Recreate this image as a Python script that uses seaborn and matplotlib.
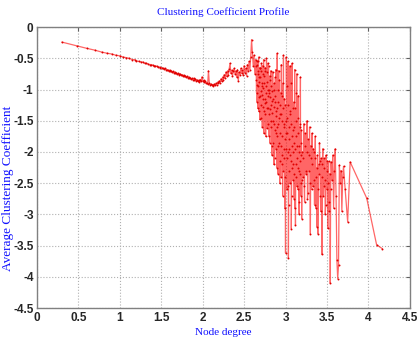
import matplotlib
matplotlib.use("Agg")
import matplotlib.pyplot as plt
import seaborn as sns
import pandas as pd

# log10(node degree) and log10(average clustering coefficient)
deg_smooth = [0.30, 0.48, 0.60, 0.70, 0.78, 0.85, 0.90, 0.95, 1.00, 1.04,
              1.08, 1.11, 1.15, 1.18, 1.20, 1.23, 1.26, 1.28, 1.30, 1.32,
              1.34, 1.36, 1.38, 1.40, 1.41, 1.43, 1.45, 1.46, 1.48, 1.49,
              1.51, 1.52, 1.53, 1.54, 1.56, 1.57, 1.58, 1.59, 1.60, 1.61,
              1.62, 1.63, 1.64, 1.65, 1.66, 1.67, 1.68, 1.69, 1.70, 1.71,
              1.72, 1.73, 1.74, 1.75, 1.76, 1.77, 1.78, 1.79, 1.80, 1.81,
              1.82, 1.83, 1.84, 1.85, 1.86, 1.87, 1.88, 1.89, 1.90, 1.91,
              1.92, 1.93, 1.94, 1.95, 1.96, 1.97, 1.98, 1.99]
cc_smooth = [-0.24, -0.30, -0.34, -0.37, -0.40, -0.42, -0.43, -0.45, -0.46, -0.48,
             -0.49, -0.50, -0.52, -0.52, -0.54, -0.55, -0.56, -0.56, -0.58, -0.58,
             -0.59, -0.60, -0.60, -0.61, -0.62, -0.62, -0.63, -0.64, -0.64, -0.65,
             -0.65, -0.66, -0.67, -0.66, -0.68, -0.68, -0.69, -0.70, -0.69, -0.71,
             -0.70, -0.72, -0.71, -0.73, -0.72, -0.74, -0.73, -0.75, -0.74, -0.75,
             -0.76, -0.75, -0.77, -0.76, -0.78, -0.77, -0.79, -0.78, -0.80, -0.79,
             -0.81, -0.80, -0.82, -0.81, -0.83, -0.82, -0.84, -0.82, -0.85, -0.83,
             -0.86, -0.84, -0.87, -0.85, -0.88, -0.84, -0.87, -0.80]

deg_mid = [2.00, 2.01, 2.02, 2.03, 2.04, 2.05, 2.06, 2.07, 2.08, 2.09,
           2.10, 2.11, 2.12, 2.13, 2.14, 2.15, 2.16, 2.17, 2.18, 2.19,
           2.20, 2.21, 2.22, 2.23, 2.24, 2.25, 2.26, 2.27, 2.28, 2.29,
           2.30, 2.31, 2.32, 2.33, 2.34, 2.35, 2.36, 2.37, 2.38, 2.39,
           2.40, 2.41, 2.42, 2.43, 2.44, 2.45, 2.46, 2.47, 2.48, 2.49,
           2.50, 2.51, 2.52, 2.53, 2.54, 2.55, 2.56, 2.57, 2.58, 2.59,
           2.60, 2.61, 2.62, 2.63, 2.64]
cc_mid = [-0.86, -0.85, -0.88, -0.87, -0.90, -0.89, -0.91, -0.70, -0.90, -0.92,
          -0.91, -0.93, -0.92, -0.94, -0.91, -0.93, -0.90, -0.92, -0.88, -0.90,
          -0.86, -0.89, -0.83, -0.87, -0.80, -0.84, -0.76, -0.82, -0.72, -0.79,
          -0.70, -0.76, -0.67, -0.58, -0.74, -0.69, -0.78, -0.71, -0.66, -0.75,
          -0.70, -0.80, -0.68, -0.86, -0.72, -0.76, -0.66, -0.74, -0.69, -0.77,
          -0.62, -0.73, -0.66, -0.78, -0.60, -0.70, -0.55, -0.68, -0.48, -0.20,
          -0.40, -0.62, -0.45, -0.75, -0.52]

deg_dense = [2.645, 2.650, 2.655, 2.660, 2.665, 2.670, 2.675, 2.680, 2.685, 2.690,
             2.695, 2.700, 2.705, 2.710, 2.715, 2.720, 2.725, 2.730, 2.735, 2.740,
             2.745, 2.750, 2.755, 2.760, 2.765, 2.770, 2.775, 2.780, 2.785, 2.790,
             2.795, 2.800, 2.805, 2.810, 2.815, 2.820, 2.825, 2.830, 2.835, 2.840,
             2.845, 2.850, 2.855, 2.860, 2.865, 2.870, 2.875, 2.880, 2.885, 2.890,
             2.895, 2.900, 2.905, 2.910, 2.915, 2.920, 2.925, 2.930, 2.935, 2.940,
             2.945, 2.950, 2.955, 2.960, 2.965, 2.970, 2.975, 2.980, 2.985, 2.990,
             2.995, 3.000, 3.005, 3.010, 3.015, 3.020, 3.025, 3.030, 3.035, 3.040,
             3.045, 3.050, 3.055, 3.060, 3.065, 3.070, 3.075, 3.080, 3.085, 3.090,
             3.095, 3.100, 3.105, 3.110, 3.115, 3.120, 3.125, 3.130, 3.135, 3.140,
             3.145, 3.150, 3.155, 3.160, 3.165, 3.170, 3.175, 3.180, 3.185, 3.190,
             3.195, 3.200]
cc_dense = [-0.62, -1.05, -0.55, -0.92, -1.30, -0.70, -0.48, -1.12, -0.80, -1.48,
            -0.66, -1.02, -1.25, -0.58, -0.95, -1.60, -0.75, -1.15, -0.52, -1.35,
            -0.90, -1.22, -0.70, -1.75, -1.05, -0.50, -1.30, -0.88, -1.55, -1.10,
            -0.62, -1.40, -1.00, -1.85, -0.78, -1.25, -1.60, -0.95, -2.05, -1.18,
            -0.72, -1.50, -1.28, -2.20, -0.90, -1.65, -1.10, -1.95, -0.68, -1.42,
            -1.75, -0.42, -1.55, -2.35, -1.20, -1.85, -0.85, -2.50, -1.40, -1.05,
            -1.90, -0.60, -2.20, -1.50, -2.70, -1.30, -0.45, -1.95, -1.60, -2.90,
            -1.25, -3.62, -1.70, -0.48, -2.10, -1.45, -2.55, -0.55, -3.70, -1.80,
            -2.30, -1.35, -0.62, -2.05, -1.55, -3.23, -1.90, -0.58, -2.45, -1.65,
            -2.20, -1.20, -2.75, -0.68, -1.95, -3.17, -1.50, -2.40, -0.75, -2.10,
            -1.70, -2.60, -1.10, -2.30, -3.00, -1.60, -2.15, -0.80, -2.50, -1.85,
            -3.07, -2.00]

deg_dense_b = [2.6475, 2.6525, 2.6575, 2.6625, 2.6675, 2.6725, 2.6775, 2.6825, 2.6875, 2.6925,
               2.6975, 2.7025, 2.7075, 2.7125, 2.7175, 2.7225, 2.7275, 2.7325, 2.7375, 2.7425,
               2.7475, 2.7525, 2.7575, 2.7625, 2.7675, 2.7725, 2.7775, 2.7825, 2.7875, 2.7925,
               2.7975, 2.8025, 2.8075, 2.8125, 2.8175, 2.8225, 2.8275, 2.8325, 2.8375, 2.8425,
               2.8475, 2.8525, 2.8575, 2.8625, 2.8675, 2.8725, 2.8775, 2.8825, 2.8875, 2.8925,
               2.8975, 2.9025, 2.9075, 2.9125, 2.9175, 2.9225, 2.9275, 2.9325, 2.9375, 2.9425,
               2.9475, 2.9525, 2.9575, 2.9625, 2.9675, 2.9725, 2.9775, 2.9825, 2.9875, 2.9925,
               2.9975, 3.0025, 3.0075, 3.0125, 3.0175, 3.0225, 3.0275, 3.0325, 3.0375, 3.0425,
               3.0475, 3.0525, 3.0575, 3.0625, 3.0675, 3.0725, 3.0775, 3.0825, 3.0875, 3.0925,
               3.0975, 3.1025, 3.1075, 3.1125, 3.1175, 3.1225, 3.1275, 3.1325, 3.1375, 3.1425,
               3.1475, 3.1525, 3.1575, 3.1625, 3.1675, 3.1725, 3.1775, 3.1825, 3.1875, 3.1925,
               3.1975]
cc_dense_b = [-0.85, -0.60, -1.20, -0.75, -0.95, -0.55, -1.35, -0.88, -0.65, -1.10,
              -0.80, -1.45, -0.70, -1.08, -0.90, -0.62, -1.28, -0.98, -1.70, -0.78,
              -1.15, -0.65, -1.40, -0.95, -1.20, -0.72, -1.62, -1.00, -0.58, -1.30,
              -1.05, -1.75, -0.85, -1.32, -1.12, -0.70, -1.50, -1.90, -1.02, -1.38,
              -1.15, -1.85, -1.00, -1.55, -2.10, -1.20, -0.80, -1.70, -1.35, -2.25,
              -1.30, -1.60, -1.00, -1.90, -0.70, -1.45, -2.15, -1.25, -1.70, -2.40,
              -1.40, -2.05, -1.10, -1.75, -0.90, -2.30, -1.55, -2.10, -1.15, -1.80,
              -2.40, -1.50, -1.95, -0.95, -2.60, -1.70, -2.00, -1.25, -2.85, -1.60,
              -1.95, -2.50, -1.40, -2.15, -0.90, -2.70, -1.75, -2.25, -1.30, -2.00,
              -1.60, -2.35, -1.85, -2.90, -1.30, -2.20, -1.75, -1.05, -2.55, -1.90,
              -2.25, -1.45, -2.00, -2.80, -1.90, -2.35, -1.55, -2.70, -2.05, -1.65,
              -2.45]

deg_tail = [3.21, 3.22, 3.23, 3.24, 3.25, 3.26, 3.27, 3.28, 3.29, 3.30,
            3.31, 3.32, 3.33, 3.34, 3.35, 3.36, 3.37, 3.38, 3.39, 3.40,
            3.41, 3.42, 3.43, 3.44, 3.45, 3.46, 3.47, 3.48, 3.49, 3.50,
            3.51, 3.52, 3.53, 3.54, 3.55, 3.56, 3.57, 3.58, 3.59, 3.60,
            3.61, 3.62, 3.63, 3.64, 3.65, 3.66, 3.67, 3.68, 3.69, 3.70,
            3.72, 3.75, 3.78, 3.98, 4.10, 4.17]
cc_tail = [-2.40, -1.55, -2.80, -1.90, -2.30, -1.50, -2.65, -2.05, -1.60, -3.31,
           -2.10, -1.70, -2.55, -2.00, -2.85, -1.75, -2.40, -3.20, -3.31, -2.20,
           -1.85, -2.70, -2.10, -3.64, -1.95, -2.55, -2.25, -3.00, -2.05, -2.60,
           -3.22, -2.15, -2.80, -4.10, -2.16, -2.45, -2.05, -2.90, -2.30, -1.95,
           -2.70, -3.73, -4.03, -3.81, -2.21, -2.50, -2.30, -2.95, -2.40, -2.23,
           -2.60, -3.12, -2.16, -2.74, -3.49, -3.55]

deg_tail_b = [3.215, 3.225, 3.235, 3.245, 3.255, 3.265, 3.275, 3.285, 3.295, 3.305,
              3.315, 3.325, 3.335, 3.345, 3.355, 3.365, 3.375, 3.385, 3.395, 3.405,
              3.415, 3.425, 3.435, 3.445, 3.455, 3.465, 3.475, 3.485, 3.495, 3.505,
              3.515, 3.525, 3.535, 3.545]
cc_tail_b = [-2.10, -2.55, -1.70, -2.35, -2.00, -2.75, -1.80, -2.30, -2.50, -1.90,
             -2.60, -2.20, -1.95, -2.45, -2.10, -2.90, -2.25, -2.05, -2.60, -2.35,
             -2.15, -2.95, -2.40, -2.20, -2.70, -2.10, -2.45, -2.85, -2.30, -2.15,
             -2.50, -2.95, -2.35, -2.60]

x_ticks = [0, 0.5, 1, 1.5, 2, 2.5, 3, 3.5, 4, 4.5]
y_ticks = [0, -0.5, -1, -1.5, -2, -2.5, -3, -3.5, -4, -4.5]

df = pd.DataFrame({
    "degree": deg_smooth + deg_mid + deg_dense + deg_dense_b + deg_tail + deg_tail_b,
    "cc": cc_smooth + cc_mid + cc_dense + cc_dense_b + cc_tail + cc_tail_b,
}).sort_values("degree", kind="stable").reset_index(drop=True)

sns.set_style("white")

serif = ["Liberation Serif", "DejaVu Serif"]

fig = plt.figure(figsize=(4.17, 3.43), dpi=100)
fig.patch.set_facecolor("white")
ax = fig.add_axes([0.0887, 0.102, 0.894, 0.819])

sns.lineplot(data=df, x="degree", y="cc", sort=False, estimator=None,
             color="#ff0000", alpha=0.6, linewidth=0.9, ax=ax, legend=False)
sns.scatterplot(data=df, x="degree", y="cc", color="#e00000", s=2,
                linewidth=0, ax=ax, legend=False, zorder=3)

ax.set_xlim(0, 4.5)
ax.set_ylim(-4.5, 0)
ax.set_xticks(x_ticks)
ax.set_yticks(y_ticks)
ax.set_xticklabels([f"{t:g}" for t in x_ticks])
ax.set_yticklabels([f"{t:g}" for t in y_ticks])
for lab in ax.get_xticklabels() + ax.get_yticklabels():
    lab.set_fontfamily(["Liberation Sans", "DejaVu Sans"])
    lab.set_fontweight("bold")
    lab.set_fontsize(8.5)
ax.tick_params(direction="in", length=3, width=0.8, color="#606060",
               top=True, right=True, pad=3)
ax.tick_params(axis="y", pad=2.5)
ax.grid(True, linestyle=":", color="#b0b0b0", linewidth=0.8)
for s in ax.spines.values():
    s.set_color("#808080")
    s.set_linewidth(1.0)
ax.set_xlabel("")
ax.set_ylabel("")

fig.text(0.536, 0.965, "Clustering Coefficient Profile", color="#1010ff",
         family=serif, fontsize=8, ha="center", va="center")
fig.text(0.536, 0.032, "Node degree", color="#1010ff",
         family=serif, fontsize=8, ha="center", va="center")
fig.text(0.018, 0.452, "Average Clustering Coefficient", color="#1010ff",
         family=serif, fontsize=9.5, ha="center", va="center", rotation=90)

fig.savefig("out.png", dpi=100, facecolor="white")
